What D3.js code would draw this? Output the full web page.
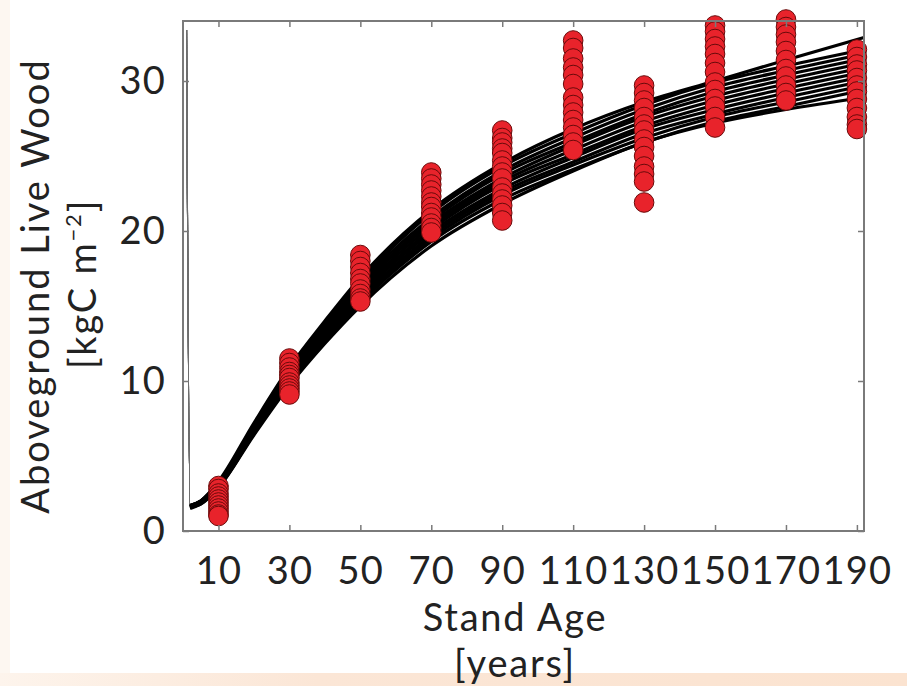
<!DOCTYPE html>
<html>
<head>
<meta charset="utf-8">
<script src="https://cdn.jsdelivr.net/npm/d3@7"></script>
<style>
  html, body { margin: 0; padding: 0; background: #ffffff; }
  svg { display: block; }
  text { font-family: Lato, "Open Sans", sans-serif; fill: #222; }
</style>
</head>
<body>
<svg id="chart" width="907" height="686"></svg>
<script>
// Stand ages at which the plot samples were taken
const standAges = [10, 30, 50, 70, 90, 110, 130, 150, 170, 190];

// Observed aboveground live wood (kgC m^-2) at each stand age
const obs10  = [3.0, 2.8, 2.5, 2.3, 2.1, 1.9, 1.7, 1.5, 1.3, 1.1, 1.0];
const obs30  = [11.5, 11.2, 10.9, 10.6, 10.4, 10.2, 9.9, 9.7, 9.5, 9.3, 9.1];
const obs50  = [18.4, 18.0, 17.6, 17.2, 16.8, 16.5, 16.1, 15.8, 15.5, 15.3];
const obs70  = [23.9, 23.5, 23.1, 22.7, 22.3, 21.9, 21.6, 21.2, 20.9, 20.5, 20.2, 19.9];
const obs90  = [26.7, 26.2, 25.9, 25.5, 25.2, 24.7, 24.3, 23.9, 23.5, 22.9, 22.5, 22.1, 21.7, 21.2, 20.7];
const obs110 = [32.7, 32.2, 31.5, 30.9, 30.4, 29.8, 28.9, 28.4, 27.9, 27.4, 26.9, 26.4, 25.9, 25.4];
const obs130 = [29.7, 29.2, 28.7, 28.2, 27.6, 27.1, 26.7, 26.1, 25.6, 25.0, 24.3, 23.8, 23.3, 21.9];
const obs150 = [33.7, 33.3, 32.8, 32.3, 31.8, 31.2, 30.6, 29.9, 29.4, 28.8, 28.3, 27.6, 26.9];
const obs170 = [34.1, 33.6, 33.1, 32.6, 32.0, 31.4, 30.8, 30.3, 29.7, 29.2, 28.7];
const obs190 = [32.1, 31.6, 31.1, 30.7, 30.2, 29.7, 29.3, 28.8, 28.2, 27.6, 27.1, 26.8];
const observations = [obs10, obs30, obs50, obs70, obs90, obs110, obs130, obs150, obs170, obs190];

// Ages at which each simulated growth trajectory is stored
const curveAges = [1, 2, 5, 10, 20, 30, 40, 50, 70, 90, 110, 130, 150, 170, 192];

// Ensemble of simulated trajectories (kgC m^-2)
const run01 = [33.4, 1.5, 1.8, 2.9, 6.4, 9.7, 12.5, 15.0, 19.0, 21.8, 24.0, 25.9, 27.2, 28.1, 28.9];
const run02 = [33.4, 1.6, 1.8, 2.9, 6.5, 9.8, 12.6, 15.2, 19.3, 22.1, 24.1, 25.9, 27.3, 28.3, 29.4];
const run03 = [33.4, 1.6, 1.9, 3.0, 6.5, 9.9, 12.8, 15.4, 19.5, 22.4, 24.4, 26.2, 27.6, 28.6, 29.7];
const run04 = [33.4, 1.6, 1.9, 3.0, 6.6, 10.0, 12.9, 15.5, 19.7, 22.6, 24.6, 26.5, 27.8, 28.9, 30.0];
const run05 = [33.4, 1.6, 1.9, 3.0, 6.7, 10.1, 13.0, 15.7, 19.9, 22.8, 24.9, 26.8, 28.1, 29.2, 30.3];
const run06 = [33.4, 1.6, 1.9, 3.1, 6.7, 10.2, 13.2, 15.8, 20.1, 23.1, 25.1, 27.0, 28.4, 29.5, 30.6];
const run07 = [33.4, 1.6, 1.9, 3.1, 6.8, 10.3, 13.3, 16.0, 20.3, 23.3, 25.4, 27.3, 28.7, 29.8, 30.9];
const run08 = [33.4, 1.6, 1.9, 3.1, 6.9, 10.4, 13.4, 16.2, 20.5, 23.5, 25.7, 27.6, 29.0, 30.1, 31.2];
const run09 = [33.4, 1.6, 2.0, 3.2, 6.9, 10.5, 13.6, 16.3, 20.7, 23.8, 25.9, 27.8, 29.3, 30.4, 31.5];
const run10 = [33.4, 1.7, 2.0, 3.2, 7.0, 10.6, 13.7, 16.5, 20.9, 24.0, 26.2, 28.1, 29.6, 30.7, 31.8];
const run11 = [33.4, 1.7, 2.0, 3.2, 7.1, 10.8, 13.9, 16.7, 21.2, 24.3, 26.5, 28.4, 29.9, 31.0, 32.1];
const run12 = [33.4, 1.7, 2.0, 3.3, 7.2, 10.9, 14.0, 16.9, 21.4, 24.5, 26.8, 28.6, 30.0, 31.4, 32.9];
const runs = [run01, run02, run03, run04, run05, run06, run07, run08, run09, run10, run11, run12];

// Axis ticks
const xTicks = [10, 30, 50, 70, 90, 110, 130, 150, 170, 190];
const yTicks = [0, 10, 20, 30];

const svg = d3.select("#chart");
const W = 907, H = 686;
const plot = { left: 183, right: 864, top: 21, bottom: 531 };
const FONT = "Lato, 'Open Sans', sans-serif";

// Page backdrop: faint warm strip on the left, warm band along the bottom
const defs = svg.append("defs");
const grad = defs.append("linearGradient").attr("id", "warmBand").attr("x1", 0).attr("x2", 1);
grad.append("stop").attr("offset", "0%").attr("stop-color", "#fdf4ec");
grad.append("stop").attr("offset", "35%").attr("stop-color", "#fbe6d6");
grad.append("stop").attr("offset", "100%").attr("stop-color", "#fbe3d0");
svg.append("rect").attr("x", 0).attr("y", 0).attr("width", W).attr("height", H).attr("fill", "#ffffff");
svg.append("rect").attr("x", 0).attr("y", 0).attr("width", 10).attr("height", H).attr("fill", "#fdf7f1");
svg.append("rect").attr("x", 0).attr("y", 673).attr("width", W).attr("height", H - 673).attr("fill", "url(#warmBand)");

const x = d3.scaleLinear().domain([0, 192]).range([plot.left, plot.right]);
const y = d3.scaleLinear().domain([0, 34]).range([plot.bottom, plot.top]);

// Simulated trajectories: the initial drop is a hairline, the growth part is heavy
const lineFrom = (start, end) => d3.line()
  .defined((d, i) => i >= start && i <= end)
  .x((d, i) => x(curveAges[i]))
  .y(d => y(d))
  .curve(d3.curveMonotoneX);

const curves = svg.append("g");
curves.selectAll("path.drop")
  .data(runs)
  .join("path")
  .attr("class", "drop")
  .attr("d", lineFrom(0, 2))
  .attr("fill", "none")
  .attr("stroke", "#6e6e6e")
  .attr("stroke-width", 1.1);

curves.selectAll("path.growth")
  .data(runs)
  .join("path")
  .attr("class", "growth")
  .attr("d", lineFrom(1, curveAges.length - 1))
  .attr("fill", "none")
  .attr("stroke", "#000")
  .attr("stroke-width", 3.2);

// Observations
const pts = [];
standAges.forEach((age, i) => observations[i].forEach(v => pts.push({ age, v })));
svg.append("g")
  .selectAll("circle")
  .data(pts)
  .join("circle")
  .attr("cx", d => x(d.age))
  .attr("cy", d => y(d.v))
  .attr("r", 9.8)
  .attr("fill", "#e8232b")
  .attr("stroke", "#6a0a0a")
  .attr("stroke-width", 1);

// Axes (ticks point inward, box on all four sides)
const axisColor = "#7a7a7a";
function styleAxis(g) {
  g.select(".domain").remove();
  g.selectAll(".tick line").attr("stroke", axisColor).attr("stroke-width", 1.5);
  g.selectAll("text").attr("font-size", 38).attr("fill", "#222").attr("font-family", FONT)
    .attr("letter-spacing", 1.2);
}

svg.append("g")
  .attr("transform", `translate(0,${plot.bottom})`)
  .call(d3.axisBottom(x).tickValues(xTicks).tickSize(-6).tickPadding(26).tickFormat(d3.format("d")))
  .call(styleAxis);

svg.append("g")
  .attr("transform", `translate(0,${plot.top})`)
  .call(d3.axisTop(x).tickValues(xTicks).tickSize(-6).tickFormat(""))
  .call(styleAxis);

svg.append("g")
  .attr("transform", `translate(${plot.left},0)`)
  .call(d3.axisLeft(y).tickValues(yTicks).tickSize(-6).tickPadding(17).tickFormat(d3.format("d")))
  .call(styleAxis);

svg.append("g")
  .attr("transform", `translate(${plot.right},0)`)
  .call(d3.axisRight(y).tickValues(yTicks).tickSize(-6).tickFormat(""))
  .call(styleAxis);

svg.append("rect")
  .attr("x", plot.left).attr("y", plot.top)
  .attr("width", plot.right - plot.left).attr("height", plot.bottom - plot.top)
  .attr("fill", "none").attr("stroke", axisColor).attr("stroke-width", 2);

// Axis titles
svg.append("text").attr("x", 515).attr("y", 631).attr("text-anchor", "middle")
  .attr("font-size", 38).attr("letter-spacing", 1.8).text("Stand Age");
svg.append("text").attr("x", 515).attr("y", 677).attr("text-anchor", "middle")
  .attr("font-size", 38).attr("letter-spacing", 1.8).text("[years]");

svg.append("text").attr("transform", "translate(49,286) rotate(-90)")
  .attr("text-anchor", "middle").attr("font-size", 38).attr("letter-spacing", 2)
  .text("Aboveground Live Wood");
const yl2 = svg.append("text").attr("transform", "translate(96,284) rotate(-90)")
  .attr("text-anchor", "middle").attr("font-size", 38).attr("letter-spacing", 1.8);
yl2.append("tspan").text("[kgC m");
yl2.append("tspan").attr("font-size", 22).attr("dy", -15).text("\u22122");
yl2.append("tspan").attr("dy", 15).text("]");
</script>
</body>
</html>
